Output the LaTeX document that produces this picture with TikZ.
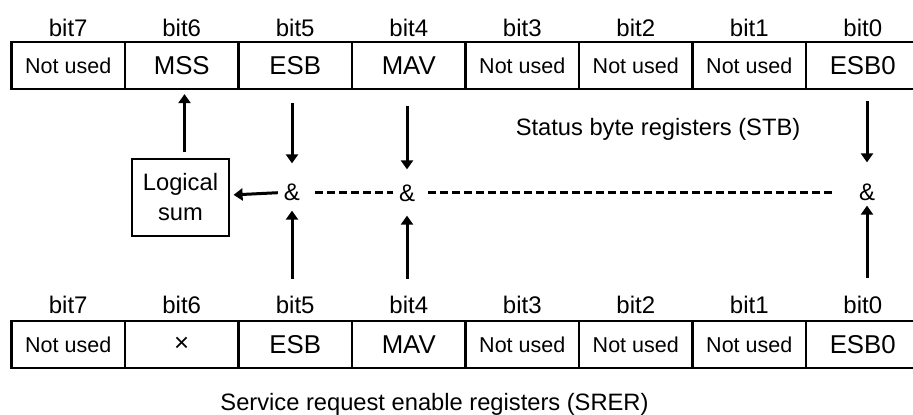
\documentclass[tikz,border=0pt]{standalone}
\usepackage{fontspec}
\setmainfont{Liberation Sans}
\usetikzlibrary{arrows.meta}
\begin{document}
\begin{tikzpicture}[x=1pt, y=-1pt, every node/.style={inner sep=0pt},
  cell/.style={draw, line width=2.2pt, minimum width=113.5pt, minimum height=47pt, font=\fontsize{25.8}{30}\selectfont},
  unused/.style={cell, font=\fontsize{21.5}{24}\selectfont},
  bitlbl/.style={anchor=base, font=\fontsize{24}{28}\selectfont},
  amp/.style={font=\fontsize{24}{28}\selectfont},
  txt/.style={font=\fontsize{23.7}{30}\selectfont},
  arr/.style={line width=3pt, -{Triangle[length=9pt,width=12pt]}},
  dashline/.style={line width=3pt, dash pattern=on 8pt off 4pt}]
  \useasboundingbox (0,0) rectangle (913,415);
  \clip (0,0) rectangle (913,415);
  % status byte register
  \node[unused] (stb7) at (68.25,65.5) {Not used};
  \node[cell] (stb6) at (181.75,65.5) {MSS};
  \node[cell] (stb5) at (295.25,65.5) {ESB};
  \node[cell] (stb4) at (408.75,65.5) {MAV};
  \node[unused] (stb3) at (522.25,65.5) {Not used};
  \node[unused] (stb2) at (635.75,65.5) {Not used};
  \node[unused] (stb1) at (749.25,65.5) {Not used};
  \node[cell] (stb0) at (862.75,65.5) {ESB0};
  \node[bitlbl] (tb7) at (68.25,36) {bit7};
  \node[bitlbl] (tb6) at (181.75,36) {bit6};
  \node[bitlbl] (tb5) at (295.25,36) {bit5};
  \node[bitlbl] (tb4) at (408.75,36) {bit4};
  \node[bitlbl] (tb3) at (522.25,36) {bit3};
  \node[bitlbl] (tb2) at (635.75,36) {bit2};
  \node[bitlbl] (tb1) at (749.25,36) {bit1};
  \node[bitlbl] (tb0) at (862.75,36) {bit0};
  \node[txt, anchor=base] (stbname) at (658,135) {Status byte registers (STB)};
  % service request enable register
  \node[unused] (srer7) at (68.25,344.5) {Not used};
  \node[cell] (srer6) at (181.75,344.5) {×};
  \node[cell] (srer5) at (295.25,344.5) {ESB};
  \node[cell] (srer4) at (408.75,344.5) {MAV};
  \node[unused] (srer3) at (522.25,344.5) {Not used};
  \node[unused] (srer2) at (635.75,344.5) {Not used};
  \node[unused] (srer1) at (749.25,344.5) {Not used};
  \node[cell] (srer0) at (862.75,344.5) {ESB0};
  \node[bitlbl] (bb7) at (68.25,313) {bit7};
  \node[bitlbl] (bb6) at (181.75,313) {bit6};
  \node[bitlbl] (bb5) at (295.25,313) {bit5};
  \node[bitlbl] (bb4) at (408.75,313) {bit4};
  \node[bitlbl] (bb3) at (522.25,313) {bit3};
  \node[bitlbl] (bb2) at (635.75,313) {bit2};
  \node[bitlbl] (bb1) at (749.25,313) {bit1};
  \node[bitlbl] (bb0) at (862.75,313) {bit0};
  \node[txt, anchor=base] (srername) at (434.5,410) {Service request enable registers (SRER)};
  % AND gates and logical sum
  \node[amp] (amp5) at (292,192) {\&};
  \node[amp] (amp4) at (407,193) {\&};
  \node[amp] (amp0) at (867,192) {\&};
  \node[draw, line width=1.2pt, minimum width=97pt, minimum height=77pt, align=center, txt] (lsum) at (180.5,197.5) {Logical\\sum};
  \draw[arr, shorten <=6pt, shorten >=4pt] ([xshift=4pt]lsum.north) -- ([xshift=4pt]lsum.north |- stb6.south);
  \draw[arr, shorten <=6pt, shorten >=4pt] (amp5) -- (lsum);
  \draw[arr, shorten <=13pt, shorten >=20pt] (amp5 |- stb5.south) -- (amp5);
  \draw[arr, shorten <=16pt, shorten >=15pt] (amp4 |- stb4.south) -- (amp4);
  \draw[arr, shorten <=11pt, shorten >=21pt] (amp0 |- stb0.south) -- (amp0);
  \draw[arr, shorten <=41pt, shorten >=10pt] (amp5 |- srer5.north) -- (amp5);
  \draw[arr, shorten <=41pt, shorten >=14pt] (amp4 |- srer4.north) -- (amp4);
  \draw[arr, shorten <=42pt, shorten >=5pt] (amp0 |- srer0.north) -- (amp0);
  \draw[dashline, shorten <=15pt, shorten >=6pt] (amp5.east) -- (amp4.west |- amp5.east);
  \draw[dashline, shorten <=13pt, shorten >=26pt] (amp4.east |- amp5) -- (amp0);
\end{tikzpicture}
\end{document}
